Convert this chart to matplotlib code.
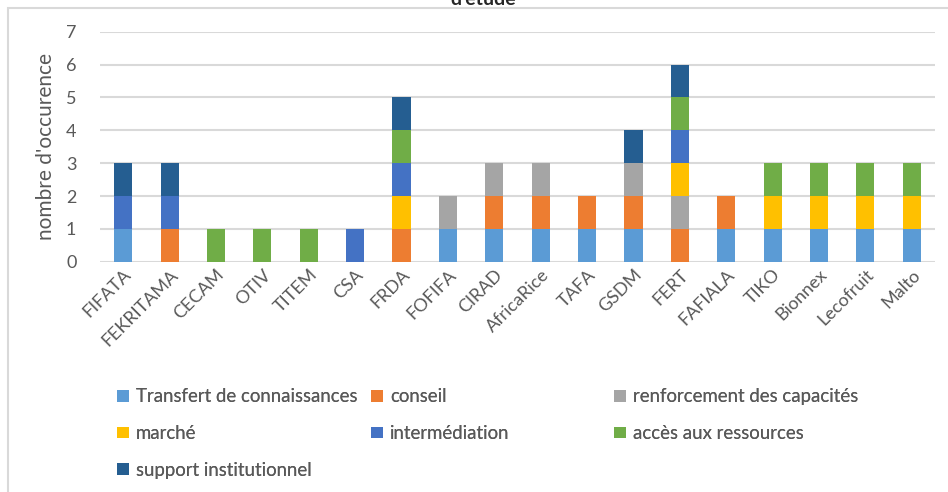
import matplotlib.pyplot as plt
import numpy as np
from matplotlib.patches import Rectangle

acteurs = ["FIFATA", "FEKRITAMA", "CECAM", "OTIV", "TITEM", "CSA", "FRDA", "FOFIFA",
           "CIRAD", "AfricaRice", "TAFA", "GSDM", "FERT", "FAFIALA", "TIKO", "Bionnex",
           "Lecofruit", "Malto"]

transfert = [1, 0, 0, 0, 0, 0, 0, 1, 1, 1, 1, 1, 0, 1, 1, 1, 1, 1]
conseil = [0, 1, 0, 0, 0, 0, 1, 0, 1, 1, 1, 1, 1, 1, 0, 0, 0, 0]
renforcement = [0, 0, 0, 0, 0, 0, 0, 1, 1, 1, 0, 1, 1, 0, 0, 0, 0, 0]
marche = [0, 0, 0, 0, 0, 0, 1, 0, 0, 0, 0, 0, 1, 0, 1, 1, 1, 1]
intermediation = [1, 1, 0, 0, 0, 1, 1, 0, 0, 0, 0, 0, 1, 0, 0, 0, 0, 0]
acces = [0, 0, 1, 1, 1, 0, 1, 0, 0, 0, 0, 0, 1, 0, 1, 1, 1, 1]
support = [1, 1, 0, 0, 0, 0, 1, 0, 0, 0, 0, 1, 1, 0, 0, 0, 0, 0]

series = [
    ("Transfert de connaissances", transfert, "#5B9BD5"),
    ("conseil", conseil, "#ED7D31"),
    ("renforcement des capacités", renforcement, "#A5A5A5"),
    ("marché", marche, "#FFC000"),
    ("intermédiation", intermediation, "#4472C4"),
    ("accès aux ressources", acces, "#70AD47"),
    ("support institutionnel", support, "#255E91"),
]

plt.rcParams["font.family"] = ["Lato", "DejaVu Sans"]
grey = "#595959"

fig = plt.figure(figsize=(9.48, 4.92), dpi=100)
ax = fig.add_axes([100 / 948, 1 - 261.7 / 492, 835 / 948, (261.7 - 31.8) / 492])

x = np.arange(len(acteurs))
bottom = np.zeros(len(acteurs))
bars = {}
for label, vals, color in series:
    vals = np.array(vals, dtype=float)
    bars[label] = ax.bar(x, vals, 0.39, bottom=bottom, color=color, label=label, zorder=3)
    bottom += vals

ax.set_xlim(-0.5, len(acteurs) - 0.5)
ax.set_ylim(0, 7)
ax.set_yticks(range(8))
ax.yaxis.grid(True, color="#D9D9D9", lw=1.5, zorder=0)
for s in ax.spines.values():
    s.set_visible(False)
ax.tick_params(length=0, colors=grey, labelsize=13)
ax.tick_params(axis="y", pad=17)
ax.set_xticks(x)
ax.set_xticklabels(acteurs, rotation=45, ha="right", rotation_mode="anchor")
ax.set_ylabel("nombre d'occurence", color=grey, fontsize=15)
ax.yaxis.set_label_coords(-0.053, 0.5)

# legend laid out in three fixed columns like the original
cols = [
    ["Transfert de connaissances", "marché", "support institutionnel"],
    ["conseil", "intermédiation"],
    ["renforcement des capacités", "accès aux ressources"],
]
col_x = [110, 364, 607]
for cx, names in zip(col_x, cols):
    leg = fig.legend([bars[n] for n in names], names, loc="upper left",
                     bbox_to_anchor=(cx / 948, 1 - 381 / 492), frameon=False,
                     fontsize=13.4, labelcolor=grey, handlelength=0.6, handleheight=0.6,
                     handletextpad=0.4, labelspacing=1.05, borderaxespad=0)
    fig.add_artist(leg)

# outer chart frame and clipped title
fig.add_artist(Rectangle((8 / 948, -0.1), 1.1, 1 - 8 / 492 + 0.1, transform=fig.transFigure,
                         fill=False, edgecolor="#D9D9D9", lw=1.5))
fig.text(483 / 948, 1 - 5 / 492, "d'étude", ha="center", va="baseline",
         fontsize=14, fontweight="bold", color="#262626")

fig.savefig("out.png", dpi=100)
